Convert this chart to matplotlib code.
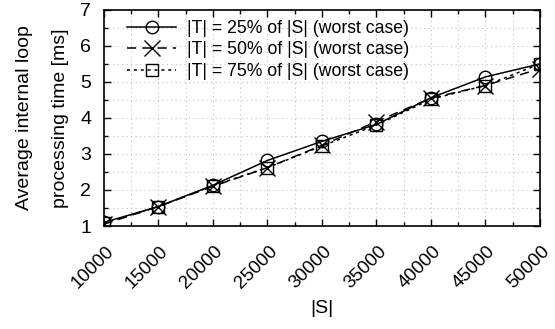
import matplotlib
matplotlib.use('Agg')
import matplotlib.pyplot as plt
import matplotlib.transforms as mtransforms
from matplotlib.ticker import MultipleLocator

plt.rcParams['font.family'] = ['Liberation Sans', 'DejaVu Sans']

sizes = [10000, 15000, 20000, 25000, 30000, 35000, 40000, 45000, 50000]
t25 = [1.10, 1.54, 2.13, 2.82, 3.35, 3.82, 4.56, 5.14, 5.50]
t50 = [1.05, 1.54, 2.10, 2.62, 3.24, 3.90, 4.55, 4.90, 5.37]
t75 = [1.08, 1.54, 2.12, 2.62, 3.22, 3.80, 4.52, 4.90, 5.50]
labels = ['|T| = 25% of |S| (worst case)',
          '|T| = 50% of |S| (worst case)',
          '|T| = 75% of |S| (worst case)']

fig = plt.figure(figsize=(5.55, 3.29), dpi=100)
ax = fig.add_axes([0.187, 0.313, 0.786, 0.657])

ax.plot(sizes, t25, '-', color='black', lw=1.1, marker='o', ms=9,
        mfc='none', mec='black', mew=1.0, label=labels[0])
ax.plot(sizes, t50, color='black', lw=1.1, ls=(0, (6, 4)), marker='x', ms=11,
        mec='black', mew=1.0, label=labels[1])
ax.plot(sizes, t75, color='black', lw=1.1, ls=(0, (2, 2.5)), marker='s', ms=8,
        mfc='none', mec='black', mew=1.0, label=labels[2])

ax.set_xlim(10000, 50000)
ax.set_ylim(1, 7)
ax.set_xticks(sizes)
ax.xaxis.set_minor_locator(MultipleLocator(2500))
ax.yaxis.set_major_locator(MultipleLocator(1))
ax.yaxis.set_minor_locator(MultipleLocator(0.5))
ax.grid(True, which='both', color='#c0c0c0', ls=(0, (1, 3)), lw=0.8)
ax.tick_params(which='both', direction='in', top=True, right=True,
               labelsize=14, width=1)
ax.tick_params(axis='x', labelsize=13.5)
ax.tick_params(which='major', length=5)
ax.tick_params(which='minor', length=3)
ax.tick_params(axis='y', pad=9)
ax.tick_params(axis='x', pad=12)
for spine in ax.spines.values():
    spine.set_linewidth(1.2)

shift = mtransforms.ScaledTranslation(1 / 72, 0, fig.dpi_scale_trans)
for lbl in ax.get_xticklabels():
    lbl.set_rotation(45)
    lbl.set_ha('right')
    lbl.set_va('top')
    lbl.set_rotation_mode('anchor')
    lbl.set_transform(lbl.get_transform() + shift)

ax.set_xlabel('|S|', fontsize=14, labelpad=6)
ax.set_ylabel('Average internal loop\nprocessing time [ms]', fontsize=14,
              labelpad=8, linespacing=2.5)

leg = ax.legend(loc='upper left', bbox_to_anchor=(0.025, 1.01), frameon=False,
                fontsize=12.7, handlelength=2.8, borderaxespad=0.3,
                labelspacing=0.25, handletextpad=0.6)

fig.savefig('out.png', dpi=100)
